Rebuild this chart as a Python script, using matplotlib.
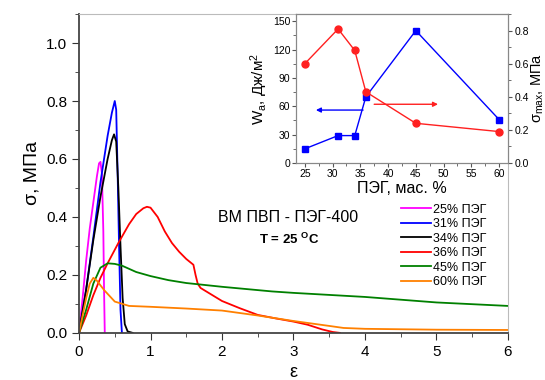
import matplotlib
matplotlib.use("Agg")
import matplotlib.pyplot as plt
from matplotlib.ticker import MultipleLocator

plt.rcParams["font.family"] = ["Liberation Sans", "DejaVu Sans"]
plt.rcParams["mathtext.fontset"] = "custom"
plt.rcParams["mathtext.rm"] = "Liberation Sans"
plt.rcParams["mathtext.it"] = "Liberation Sans:italic"
plt.rcParams["mathtext.bf"] = "Liberation Sans:bold"

# stress-strain curves, strain eps and stress sigma (MPa)
eps_25 = [0, 0.05, 0.1, 0.15, 0.2, 0.25, 0.28, 0.3, 0.32, 0.34, 0.35, 0.36]
sig_25 = [0, 0.12, 0.25, 0.36, 0.45, 0.54, 0.585, 0.59, 0.55, 0.35, 0.15, 0.0]

eps_31 = [0, 0.1, 0.2, 0.3, 0.4, 0.46, 0.5, 0.52, 0.54, 0.56, 0.58, 0.6]
sig_31 = [0, 0.15, 0.33, 0.52, 0.68, 0.76, 0.80, 0.77, 0.55, 0.3, 0.08, 0.0]

eps_34 = [0, 0.1, 0.2, 0.3, 0.4, 0.46, 0.49, 0.52, 0.55, 0.58, 0.61, 0.64, 0.68, 0.75]
sig_34 = [0, 0.15, 0.32, 0.47, 0.60, 0.665, 0.685, 0.66, 0.5, 0.3, 0.12, 0.03, 0.005, 0.0]

eps_36 = [0, 0.1, 0.2, 0.3, 0.4, 0.55, 0.7, 0.8, 0.9, 0.95, 1.0, 1.1, 1.2, 1.3, 1.4,
          1.5, 1.6, 1.63, 1.66, 1.7, 1.8, 2.0, 2.25, 2.5, 2.75, 3.0, 3.2, 3.4, 3.55, 3.65]
sig_36 = [0, 0.06, 0.13, 0.19, 0.24, 0.31, 0.375, 0.41, 0.43, 0.435, 0.432, 0.40, 0.35,
          0.31, 0.28, 0.255, 0.235, 0.2, 0.17, 0.155, 0.14, 0.11, 0.085, 0.062, 0.05,
          0.039, 0.028, 0.012, 0.003, 0.0]

eps_45 = [0, 0.1, 0.2, 0.3, 0.4, 0.5, 0.6, 0.8, 1.0, 1.25, 1.5, 2.0, 2.7, 3.0, 4.0, 5.0, 6.0]
sig_45 = [0, 0.08, 0.17, 0.225, 0.24, 0.238, 0.232, 0.21, 0.196, 0.182, 0.172, 0.159,
          0.143, 0.138, 0.124, 0.105, 0.093]

eps_60 = [0, 0.05, 0.1, 0.15, 0.2, 0.25, 0.35, 0.5, 0.7, 1.0, 1.5, 2.0, 2.5, 3.0, 3.5,
          3.7, 4.0, 5.0, 6.0]
sig_60 = [0, 0.06, 0.12, 0.17, 0.19, 0.18, 0.148, 0.108, 0.093, 0.09, 0.084, 0.077,
          0.06, 0.041, 0.024, 0.017, 0.014, 0.011, 0.01]

labels = ["25% ПЭГ", "31% ПЭГ", "34% ПЭГ", "36% ПЭГ", "45% ПЭГ", "60% ПЭГ"]
colors = ["#ff00ff", "#0000ff", "#000000", "#ff0000", "#008000", "#ff8000"]

# inset data
peg = [25, 31, 34, 36, 45, 60]
wa = [15, 29, 29, 70, 140, 46]
sig_max = [0.6, 0.81, 0.68, 0.43, 0.24, 0.19]

fig = plt.figure(figsize=(5.45, 3.8), dpi=100)
ax = fig.add_axes([0.145, 0.124, 0.787, 0.839])

curves = [(eps_25, sig_25), (eps_31, sig_31), (eps_34, sig_34),
          (eps_36, sig_36), (eps_45, sig_45), (eps_60, sig_60)]
for (x, y), lab, c in zip(curves, labels, colors):
    ax.plot(x, y, color=c, lw=1.3, label=lab)

ax.set_xlim(0, 6)
ax.set_ylim(0, 1.1)
ax.xaxis.set_major_locator(MultipleLocator(1))
ax.xaxis.set_minor_locator(MultipleLocator(0.5))
ax.yaxis.set_major_locator(MultipleLocator(0.2))
ax.yaxis.set_minor_locator(MultipleLocator(0.1))
ax.tick_params(which="both", direction="out", colors="#333333", labelsize=11,
               labelcolor="black")
ax.tick_params(which="major", length=5)
ax.tick_params(which="minor", length=3)
ax.set_xlabel("ε", fontsize=13)
ax.set_ylabel("σ, МПа", fontsize=14)
for s in ["left", "bottom"]:
    ax.spines[s].set_color("#444444")
    ax.spines[s].set_linewidth(1.3)
for s in ["top", "right"]:
    ax.spines[s].set_color("#bbbbbb")

ax.legend(loc="upper right", bbox_to_anchor=(0.905, 0.48), bbox_transform=fig.transFigure,
          frameon=False, fontsize=9, handlelength=2.4, handletextpad=0.2,
          labelspacing=0.2, borderpad=0)

fig.text(288 / 545, 1 - 217 / 380, "ВМ ПВП - ПЭГ-400", fontsize=11.5,
         ha="center", va="center")
fig.text(289 / 545, 1 - 239 / 380, r"T = 25 $^\mathbf{O}$C", fontsize=9.5,
         fontweight="bold", ha="center", va="center")

# inset
ins = fig.add_axes([0.544, 0.571, 0.388, 0.392])
ins.plot(peg, wa, color="#0000ff", lw=1, marker="s", ms=4.5)
ins.set_xlim(23.5, 61.6)
ins.set_ylim(0, 157.5)
ins.xaxis.set_major_locator(MultipleLocator(5))
ins.xaxis.set_minor_locator(MultipleLocator(2.5))
ins.yaxis.set_major_locator(MultipleLocator(30))
ins.yaxis.set_minor_locator(MultipleLocator(15))
ins.set_xlabel("ПЭГ, мас. %", fontsize=11.5, labelpad=1)
ins.set_ylabel(r"W$_\mathrm{a}$, Дж/м$^2$", fontsize=11, labelpad=2)
ins.annotate("", xy=(26.5, 56), xytext=(36, 56),
             arrowprops=dict(arrowstyle="-|>", color="#0000ff", lw=1, mutation_scale=7))

ins2 = ins.twinx()
ins2.plot(peg, sig_max, color="#ff2020", lw=1, marker="o", ms=5)
ins2.set_ylim(0, 0.9)
ins2.yaxis.set_major_locator(MultipleLocator(0.2))
ins2.yaxis.set_minor_locator(MultipleLocator(0.1))
ins2.set_ylabel(r"σ$_\mathrm{max}$, МПа", fontsize=10.5, labelpad=1)
ins2.annotate("", xy=(49.5, 0.355), xytext=(37, 0.355),
              arrowprops=dict(arrowstyle="-|>", color="#ff2020", lw=1, mutation_scale=7))

for a in (ins, ins2):
    a.tick_params(which="both", direction="out", labelsize=7.5, colors="#555555",
                  labelcolor="black", pad=1.5)
    a.tick_params(which="major", length=3)
    a.tick_params(which="minor", length=2)
    for s in a.spines.values():
        s.set_color("#888888")
        s.set_linewidth(0.8)

fig.savefig("out.png", dpi=100)
